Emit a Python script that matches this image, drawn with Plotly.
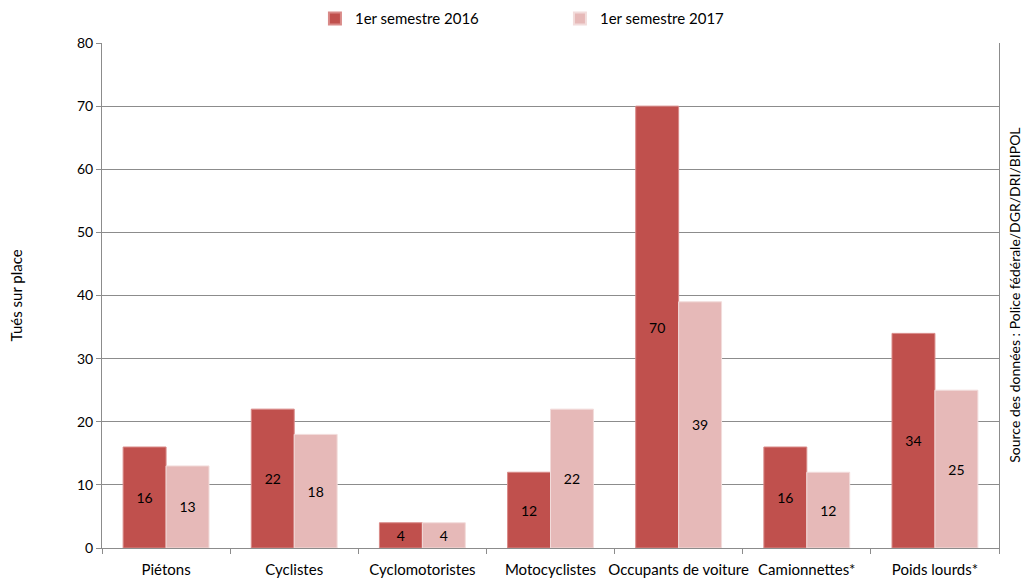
import plotly.graph_objects as go

categories = ["Piétons", "Cyclistes", "Cyclomotoristes", "Motocyclistes",
              "Occupants de voiture", "Camionnettes*", "Poids lourds*"]
tues_2016 = [16, 22, 4, 12, 70, 16, 34]
tues_2017 = [13, 18, 4, 22, 39, 12, 25]

font = "Lato, Open Sans, sans-serif"

fig = go.Figure()
fig.add_trace(go.Bar(x=categories, y=tues_2016, name="1er semestre 2016",
                     marker=dict(color="#C0504D", line=dict(color="#D98A88", width=1)),
                     text=tues_2016, textposition="inside", insidetextanchor="middle",
                     textfont=dict(color="black", size=14), textangle=0))
fig.add_trace(go.Bar(x=categories, y=tues_2017, name="1er semestre 2017",
                     marker=dict(color="#E6B9B8", line=dict(color="#F2DCDB", width=1)),
                     text=tues_2017, textposition="inside", insidetextanchor="middle",
                     textfont=dict(color="black", size=14), textangle=0))

# the page adds an 8px body margin, so the figure is sized to fit inside it
fig.update_layout(
    width=1024, height=571,
    margin=dict(l=94, r=33, t=35, b=31),
    paper_bgcolor="white", plot_bgcolor="white",
    font=dict(family=font, size=14, color="black"),
    barmode="group", bargap=0.33, bargroupgap=0,
    legend=dict(orientation="h", xref="container", yref="container",
                x=0.539, xanchor="center", y=0.981, yanchor="middle",
                font=dict(size=15), entrywidth=200, itemsizing="constant"),
    annotations=[
        dict(text="Tués sur place", xref="paper", yref="paper", x=-0.096, y=0.5,
             textangle=-90, showarrow=False, font=dict(size=15), xanchor="center", yanchor="middle"),
        dict(text="Source des données : Police fédérale/DGR/DRI/BIPOL", xref="paper", yref="paper",
             x=1.017, y=0.5, textangle=-90, showarrow=False, font=dict(size=14),
             xanchor="center", yanchor="middle"),
    ],
)
fig.update_yaxes(range=[0, 80], dtick=10, showgrid=True, gridcolor="#8C8C8C", gridwidth=1,
                 showline=True, linecolor="#8C8C8C", mirror=True, ticks="outside",
                 ticklen=5, tickcolor="#8C8C8C", tickfont=dict(size=14), zeroline=False,
                 automargin=False)
fig.update_xaxes(showline=True, linecolor="#8C8C8C", ticks="outside", tickson="boundaries",
                 ticklen=5, tickcolor="#8C8C8C", tickfont=dict(size=15), ticklabelstandoff=8,
                 tickangle=0, automargin=False)

fig.write_html("out.html")
